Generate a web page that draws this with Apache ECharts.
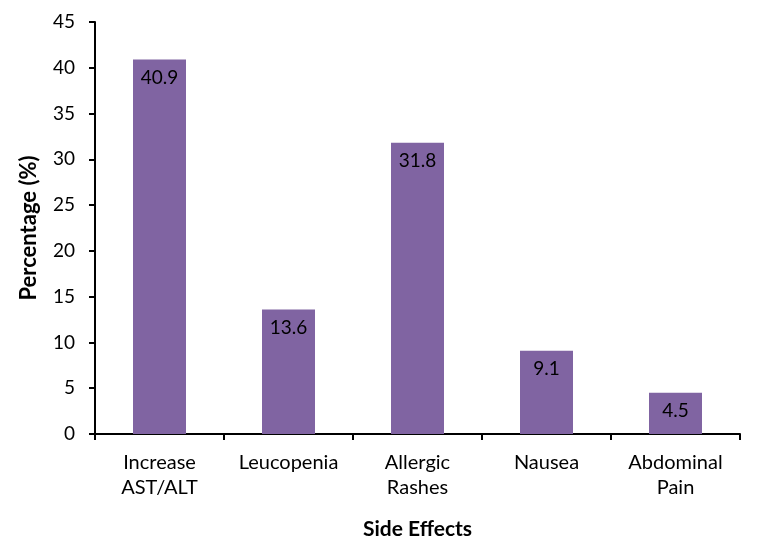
<!DOCTYPE html>
<html><head><meta charset="utf-8">
<script src="https://cdn.jsdelivr.net/npm/echarts@6/dist/echarts.min.js"></script>
<style>html,body{margin:0;padding:0;background:#fff}#c{width:759px;height:548px}</style>
</head><body><div id="c"></div>
<script>
const categories = ['Increase\nAST/ALT', 'Leucopenia', 'Allergic\nRashes', 'Nausea', 'Abdominal\nPain'];
const values = [40.9, 13.6, 31.8, 9.1, 4.5];
const yTicks = { min: 0, max: 45, interval: 5 };
const FONT = 'Lato';
const chart = echarts.init(document.getElementById('c'), null, { renderer: 'canvas' });
chart.setOption({
  animation: false,
  backgroundColor: '#fff',
  grid: { left: 95, right: 19, top: 22, bottom: 114, containLabel: false },
  xAxis: {
    type: 'category', data: categories,
    name: 'Side Effects', nameLocation: 'middle', nameGap: 85,
    nameTextStyle: { fontFamily: FONT, fontSize: 21, fontWeight: 'bold', color: '#000' },
    axisLine: { lineStyle: { color: '#000', width: 2 } },
    axisTick: { show: true, interval: 0, length: 6, lineStyle: { color: '#000', width: 2 } },
    axisLabel: { interval: 0, hideOverlap: false, fontFamily: FONT, fontSize: 20, color: '#000', margin: 16, lineHeight: 25 }
  },
  yAxis: {
    type: 'value', min: yTicks.min, max: yTicks.max, interval: yTicks.interval,
    name: 'Percentage (%)', nameLocation: 'middle', nameGap: 55,
    nameTextStyle: { fontFamily: FONT, fontSize: 22, fontWeight: 'bold', color: '#000' },
    axisLine: { show: true, lineStyle: { color: '#000', width: 2 } },
    axisTick: { show: true, length: 6, lineStyle: { color: '#000', width: 2 } },
    splitLine: { show: false },
    axisLabel: { fontFamily: FONT, fontSize: 19, color: '#000', margin: 20 }
  },
  series: [{
    type: 'bar', data: values, barWidth: 53,
    itemStyle: { color: '#8064A2' },
    label: { show: true, position: 'insideTop', distance: 9, fontFamily: FONT, fontSize: 19, color: '#000' }
  }]
});
</script></body></html>
